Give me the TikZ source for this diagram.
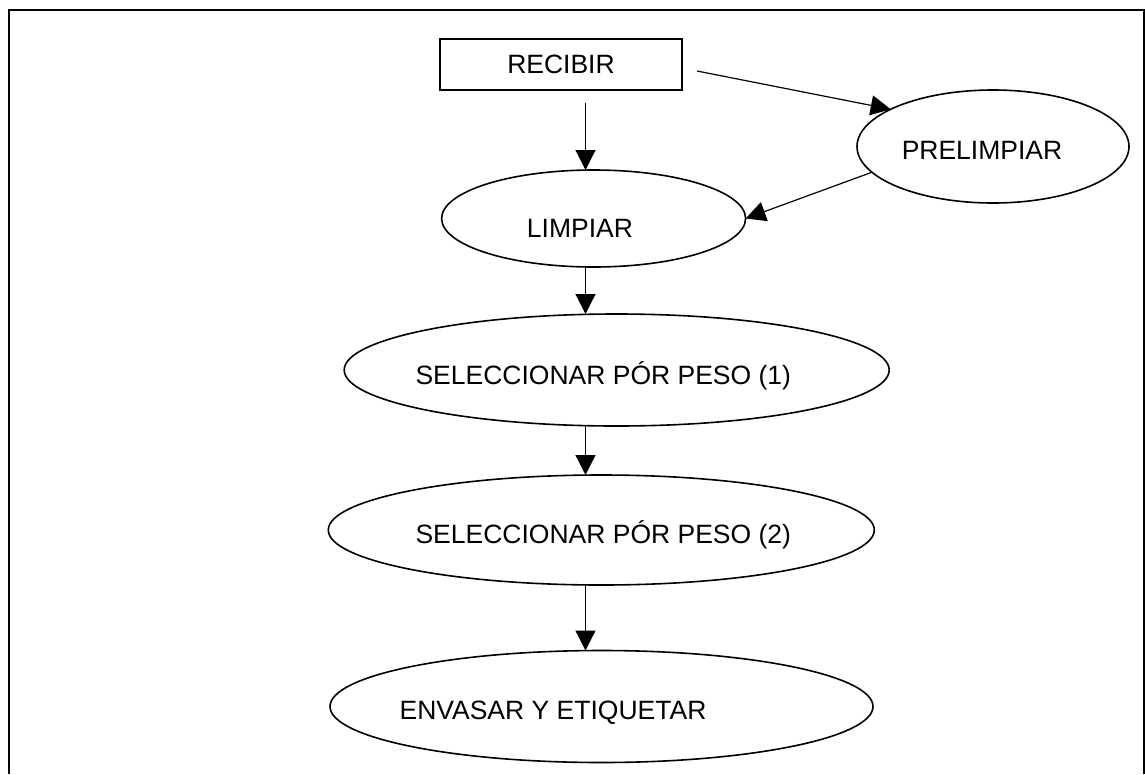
\documentclass[tikz,border=0pt]{standalone}
\usepackage{fontspec}
\setmainfont{Liberation Sans}
\usetikzlibrary{arrows.meta,shapes.geometric,calc}

\begin{document}
\begin{tikzpicture}[x=1pt,y=-1pt,
boxnode/.style={rectangle, draw=black, line width=1.6pt, minimum width=242pt, minimum height=51pt, inner sep=0pt, outer sep=0pt},
ovalnode/.style={ellipse, draw=black, line width=1.6pt, inner sep=0pt, outer sep=0pt},
txt/.style={font=\fontsize{26.5pt}{30pt}\selectfont, text depth=0pt},
flow/.style={line width=1.2pt, -{Triangle[length=20pt,width=20pt]}}
]
\path[use as bounding box] (0,0) rectangle (1145,774);
%Frame
\draw[line width=2pt] (9,774) |- (1143.5,10) -- (1143.5,774);

%Nodes
\node[boxnode, txt] (recibir) at (561,64.5) {RECIBIR};
\node[ovalnode, minimum width=272pt, minimum height=113pt, label={[txt, xshift=-11pt, yshift=-3.5pt]center:PRELIMPIAR}] (prelimpiar) at (993,146.5) {};
\node[ovalnode, minimum width=304pt, minimum height=97pt, label={[txt, xshift=-13.6pt, yshift=-9.5pt]center:LIMPIAR}] (limpiar) at (593.6,218.5) {};
\node[ovalnode, minimum width=545pt, minimum height=112pt, label={[txt, xshift=-13.4pt, yshift=-3pt]center:SELECCIONAR PÓR PESO (1)}] (peso1) at (616.7,370) {};
\node[ovalnode, minimum width=546pt, minimum height=110pt, label={[txt, xshift=2pt, yshift=-1.7pt]center:SELECCIONAR PÓR PESO (2)}] (peso2) at (601.3,530) {};
\node[ovalnode, minimum width=543pt, minimum height=112pt, label={[txt, xshift=-48.5pt, yshift=-3.5pt]center:ENVASAR Y ETIQUETAR}] (envasar) at (601.5,706.5) {};
\coordinate (axis) at (585.5,0);

%Lines
\draw[flow] ($(recibir.south -| axis)+(0,13)$) -- (limpiar.north -| axis);
\draw[flow] ($(recibir.east)+(15,6.5)$) -- (prelimpiar.160);
\draw[flow] (prelimpiar.192) -- (limpiar.east);
\draw[flow] (limpiar.south -| axis) -- (peso1.north -| axis);
\draw[flow] (peso1.south -| axis) -- (peso2.north -| axis);
\draw[flow] (peso2.south -| axis) -- (envasar.north -| axis);

\end{tikzpicture}
\end{document}
